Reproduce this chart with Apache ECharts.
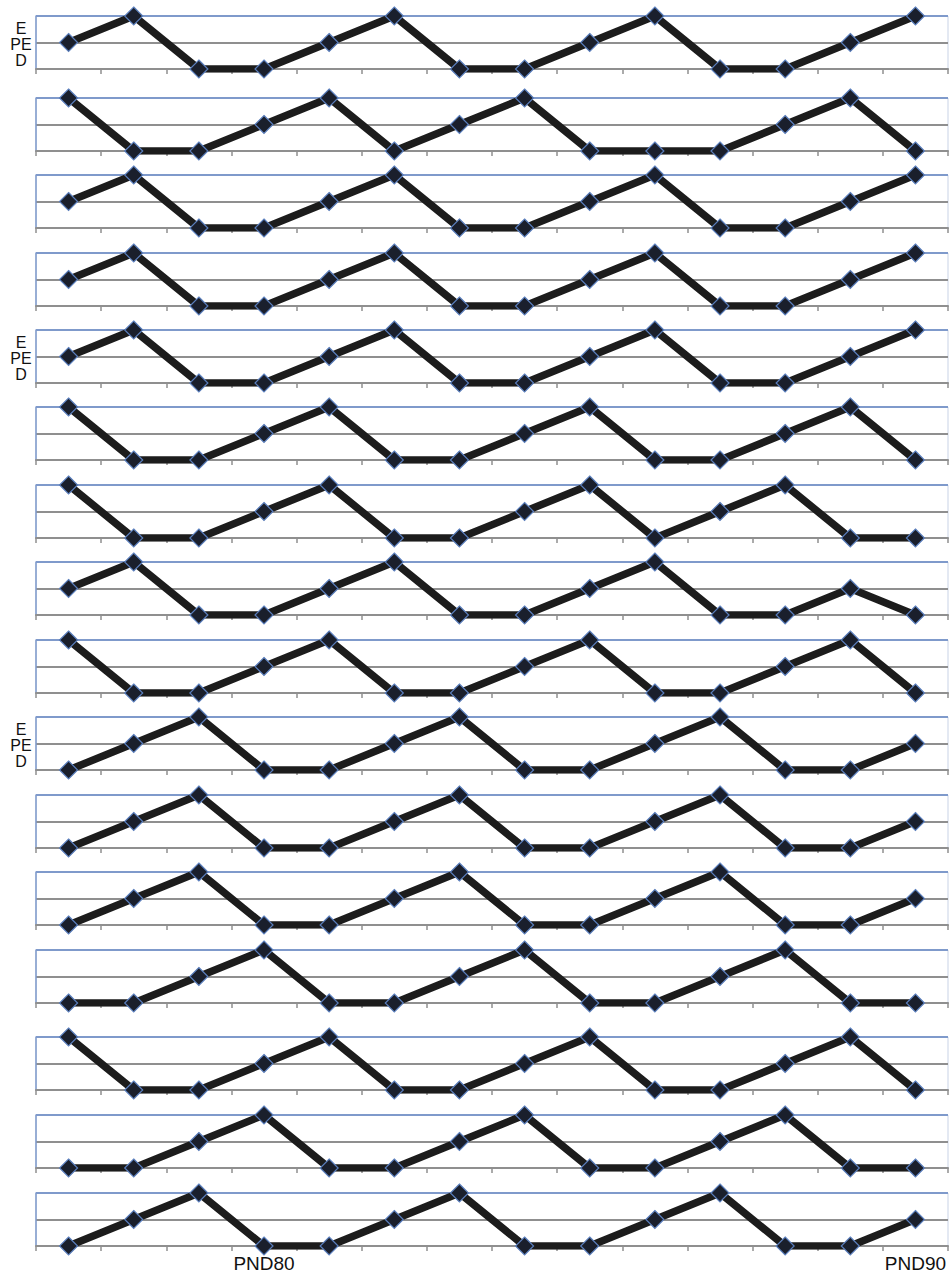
<!DOCTYPE html>
<html>
<head>
<meta charset="utf-8">
<script src="https://cdn.jsdelivr.net/npm/echarts@6/dist/echarts.min.js"></script>
<style>
html,body{margin:0;padding:0;background:#fff;}
#chart{width:951px;height:1277px;}
</style>
</head>
<body>
<div id="chart"></div>
<script>
// Categories (only two are labelled on the axis)
const categories = ['', '', '', 'PND80', '', '', '', '', '', '', '', '', '', 'PND90'];
// Level labels, value 0 = D, 1 = PE, 2 = E
const levels = ['D', 'PE', 'E'];
// Panels that carry the level label block
const labelledPanels = [0, 4, 9];

// Series values, one array per panel (top to bottom)
const row01 = [1, 2, 0, 0, 1, 2, 0, 0, 1, 2, 0, 0, 1, 2];
const row02 = [2, 0, 0, 1, 2, 0, 1, 2, 0, 0, 0, 1, 2, 0];
const row03 = [1, 2, 0, 0, 1, 2, 0, 0, 1, 2, 0, 0, 1, 2];
const row04 = [1, 2, 0, 0, 1, 2, 0, 0, 1, 2, 0, 0, 1, 2];
const row05 = [1, 2, 0, 0, 1, 2, 0, 0, 1, 2, 0, 0, 1, 2];
const row06 = [2, 0, 0, 1, 2, 0, 0, 1, 2, 0, 0, 1, 2, 0];
const row07 = [2, 0, 0, 1, 2, 0, 0, 1, 2, 0, 1, 2, 0, 0];
const row08 = [1, 2, 0, 0, 1, 2, 0, 0, 1, 2, 0, 0, 1, 0];
const row09 = [2, 0, 0, 1, 2, 0, 0, 1, 2, 0, 0, 1, 2, 0];
const row10 = [0, 1, 2, 0, 0, 1, 2, 0, 0, 1, 2, 0, 0, 1];
const row11 = [0, 1, 2, 0, 0, 1, 2, 0, 0, 1, 2, 0, 0, 1];
const row12 = [0, 1, 2, 0, 0, 1, 2, 0, 0, 1, 2, 0, 0, 1];
const row13 = [0, 0, 1, 2, 0, 0, 1, 2, 0, 0, 1, 2, 0, 0];
const row14 = [2, 0, 0, 1, 2, 0, 0, 1, 2, 0, 0, 1, 2, 0];
const row15 = [0, 0, 1, 2, 0, 0, 1, 2, 0, 0, 1, 2, 0, 0];
const row16 = [0, 1, 2, 0, 0, 1, 2, 0, 0, 1, 2, 0, 0, 1];

const rows = [row01,row02,row03,row04,row05,row06,row07,row08,row09,row10,row11,row12,row13,row14,row15,row16];

// Layout (panel tops in px)
const panelTops = [16, 98, 175, 253, 330, 407, 485, 562, 640, 717, 795, 872, 950, 1037, 1115, 1193];
const panelH = 53;
const FONT = '"Liberation Sans", Arial, sans-serif';

const grids = [], xAxes = [], yAxes = [], series = [], graphics = [];
rows.forEach((row, i) => {
  const last = i === rows.length - 1;
  grids.push({
    left: 36, right: 3, top: panelTops[i], height: panelH,
    show: true, borderColor: '#c9d3e6', borderWidth: 1, backgroundColor: 'transparent'
  });
  xAxes.push({
    type: 'category', gridIndex: i, data: categories, boundaryGap: true,
    axisLine: { show: true, lineStyle: { color: '#8f8f8f', width: 2 } },
    axisTick: { show: true, alignWithLabel: false, interval: 0, length: 5, lineStyle: { color: '#8f8f8f', width: 1.5 } },
    axisLabel: { show: last, interval: 0, margin: 8, color: '#111', fontSize: 19, fontFamily: FONT },
    splitLine: { show: false }
  });
  yAxes.push({
    type: 'value', gridIndex: i, min: 0, max: 2, interval: 1,
    axisLine: { show: true, lineStyle: { color: '#7f9acb', width: 1.5 } },
    axisTick: { show: false },
    axisLabel: { show: false },
    splitLine: { show: true, lineStyle: { color: ['#8f8f8f', '#8f8f8f', '#7f9acb'], width: 2 } }
  });
  series.push({
    type: 'line', xAxisIndex: i, yAxisIndex: i, data: row,
    symbol: 'diamond', symbolSize: 18, showSymbol: true,
    lineStyle: { color: '#1c1c1c', width: 7.5 },
    itemStyle: { color: '#1a1f2c', borderColor: '#5b7fbd', borderWidth: 1.2 },
    emphasis: { disabled: true }, animation: false, z: 3
  });
  if (labelledPanels.includes(i)) {
    graphics.push({
      type: 'text', x: 21, y: panelTops[i] + panelH / 2 + 2,
      style: {
        text: levels.slice().reverse().join('\n'),
        fill: '#111', font: '16px ' + FONT, lineHeight: 16,
        align: 'center', verticalAlign: 'middle'
      }
    });
  }
});

const chart = echarts.init(document.getElementById('chart'), null, { renderer: 'svg' });
chart.setOption({
  animation: false,
  backgroundColor: '#fff',
  grid: grids, xAxis: xAxes, yAxis: yAxes, series: series,
  graphic: graphics
});
</script>
</body>
</html>
